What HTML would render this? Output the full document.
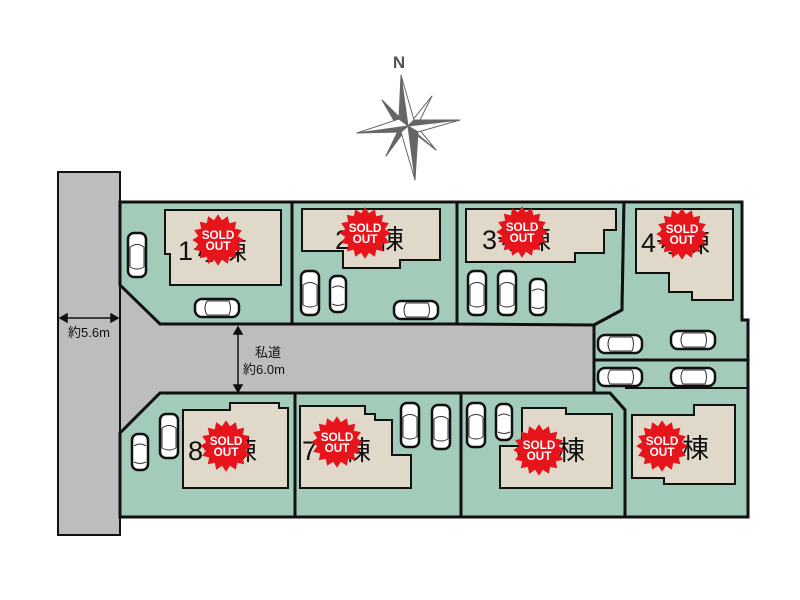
<!DOCTYPE html>
<html><head><meta charset="utf-8"><style>
html,body{margin:0;padding:0;background:#fff;}
svg{display:block;}
text{font-family:"Liberation Sans","Noto Sans CJK JP",sans-serif;}
</style></head><body>
<svg width="800" height="600" viewBox="0 0 800 600" xmlns="http://www.w3.org/2000/svg">
<defs>
<polygon id="star" fill="#e8141c" points="23,0 17.65,3.51 21.25,8.8 14.97,10 16.26,16.26 10,14.97 8.8,21.25 3.51,17.65 0,23 -3.51,17.65 -8.8,21.25 -10,14.97 -16.26,16.26 -14.97,10 -21.25,8.8 -17.65,3.51 -23,0 -17.65,-3.51 -21.25,-8.8 -14.97,-10 -16.26,-16.26 -10,-14.97 -8.8,-21.25 -3.51,-17.65 0,-23 3.51,-17.65 8.8,-21.25 10,-14.97 16.26,-16.26 14.97,-10 21.25,-8.8 17.65,-3.51"/>
<g id="carv">
<rect x="-9" y="-22" width="18" height="44" rx="6" fill="#fff" stroke="#111" stroke-width="2.5"/>
<path d="M-7,-8 Q0,-13 7,-8 M-7,12 Q0,16 7,12 M-7,-8 V12 M7,-8 V12" fill="none" stroke="#333" stroke-width="1"/>
</g>
<g id="carvs">
<rect x="-8" y="-18" width="16" height="36" rx="6" fill="#fff" stroke="#111" stroke-width="2.5"/>
<path d="M-6,-6 Q0,-10 6,-6 M-6,10 Q0,13 6,10" fill="none" stroke="#333" stroke-width="1"/>
</g>
<g id="carh">
<rect x="-22" y="-9" width="44" height="18" rx="7" fill="#fff" stroke="#111" stroke-width="2.5"/>
<path d="M-10,-7 Q-14,0 -10,7 M12,-7 Q15,0 12,7 M-10,-7 H12 M-10,7 H12" fill="none" stroke="#333" stroke-width="1"/>
</g>
</defs>

<!-- compass -->
<text x="399" y="68" font-size="17" font-weight="bold" fill="#555" text-anchor="middle">N</text>
<g stroke="#666" stroke-width="1" stroke-linejoin="round">
<polygon points="408,126 382,100 400,119" fill="#fff"/>
<polygon points="408,126 382,100 396,124" fill="#666"/>
<polygon points="408,126 432,96 414,120" fill="#666"/>
<polygon points="408,126 432,96 419,122" fill="#fff"/>
<polygon points="408,126 386,156 403,133" fill="#fff"/>
<polygon points="408,126 386,156 398,131" fill="#666"/>
<polygon points="408,126 436,150 414,133" fill="#666"/>
<polygon points="408,126 436,150 418,128" fill="#fff"/>
<polygon points="408,126 401,75 399,119" fill="#666"/>
<polygon points="408,126 401,75 414,120" fill="#fff"/>
<polygon points="408,126 460,120 414,120" fill="#666"/>
<polygon points="408,126 460,120 418,132" fill="#fff"/>
<polygon points="408,126 415,180 418,132" fill="#666"/>
<polygon points="408,126 415,180 401,132" fill="#fff"/>
<polygon points="408,126 357,133 401,132" fill="#666"/>
<polygon points="408,126 357,133 399,119" fill="#fff"/>
</g>

<!-- private road -->
<rect x="119" y="280" width="480" height="160" fill="#bdbdbd"/>
<!-- left road -->
<rect x="58" y="172" width="62" height="363" fill="#bdbdbd" stroke="#111" stroke-width="2"/>

<g stroke="#111" stroke-width="3" stroke-linejoin="miter">
<polygon points="120,202 292,202 292,324 160,324 120,285" fill="#a3cbb9"/>
<polygon points="292,202 457,202 457,324 292,324" fill="#a3cbb9"/>
<polygon points="457,202 624,202 622,310 594,325 457,324" fill="#a3cbb9"/>
<polygon points="624,202 742,202 742,320 748,320 748,360 594,360 594,325 622,310" fill="#a3cbb9"/>
<polygon points="594,360 748,360 748,517 625,517 625,410 610,393 594,393" fill="#a3cbb9"/>
<polygon points="160,393 295,393 295,517 120,517 120,433" fill="#a3cbb9"/>
<polygon points="295,393 461,393 461,517 295,517" fill="#a3cbb9"/>
<polygon points="461,393 610,393 625,410 625,517 461,517" fill="#a3cbb9"/>
<line x1="625" y1="388" x2="748" y2="388" stroke-width="2"/>
</g>

<!-- houses -->
<g fill="#e0d8c8" stroke="#111" stroke-width="2">
<polygon points="165,210 281,210 281,285 170,285 170,254 165,254"/>
<polygon points="302,209 440,209 440,260 400,260 400,268 343,268 343,251 302,251"/>
<polygon points="466,209 616,209 616,230 604,230 604,253 575,253 575,262 466,262"/>
<polygon points="636,209 733,209 733,300 692,300 692,292 669,292 669,273 636,273"/>
<polygon points="183,410 230,410 230,403 279,403 279,408 288,408 288,488 183,488"/>
<polygon points="300,406 365,406 365,414 375,414 375,420 392,420 392,455 411,455 411,488 300,488"/>
<polygon points="522,408 566,408 566,414 612,414 612,488 500,488 500,446 522,446"/>
<polygon points="632,415 694,415 694,405 735,405 735,484 664,484 664,478 632,478"/>
</g>

<!-- labels -->
<g font-size="27" fill="#111">
<text x="178" y="260">1号棟</text>
<text x="335" y="249">2号棟</text>
<text x="482" y="249">3号棟</text>
<text x="641" y="252">4号棟</text>
<text x="188" y="460">8号棟</text>
<text x="302" y="460">7号棟</text>
<text x="516" y="460">6号棟</text>
<text x="640" y="458">5号棟</text>
</g>

<!-- sold out -->
<g font-size="10.5" font-weight="bold" fill="#fff" text-anchor="middle">
<g transform="translate(218,240) scale(1.12)"><use href="#star"/><text y="-1">SOLD</text><text y="9">OUT</text></g>
<g transform="translate(365,233) scale(1.12)"><use href="#star"/><text y="-1">SOLD</text><text y="9">OUT</text></g>
<g transform="translate(522,232) scale(1.12)"><use href="#star"/><text y="-1">SOLD</text><text y="9">OUT</text></g>
<g transform="translate(682,234) scale(1.12)"><use href="#star"/><text y="-1">SOLD</text><text y="9">OUT</text></g>
<g transform="translate(226,446) scale(1.12)"><use href="#star"/><text y="-1">SOLD</text><text y="9">OUT</text></g>
<g transform="translate(337,442) scale(1.12)"><use href="#star"/><text y="-1">SOLD</text><text y="9">OUT</text></g>
<g transform="translate(539,450) scale(1.12)"><use href="#star"/><text y="-1">SOLD</text><text y="9">OUT</text></g>
<g transform="translate(662,446) scale(1.12)"><use href="#star"/><text y="-1">SOLD</text><text y="9">OUT</text></g>
</g>

<!-- cars -->
<use href="#carv" x="137" y="255"/>
<use href="#carh" x="217" y="308"/>
<use href="#carv" x="310" y="293"/>
<use href="#carvs" x="338" y="294"/>
<use href="#carh" x="416" y="310"/>
<use href="#carv" x="477" y="293"/>
<use href="#carv" x="507" y="293"/>
<use href="#carvs" x="538" y="297"/>
<use href="#carh" x="620" y="344"/>
<use href="#carh" x="693" y="340"/>
<use href="#carh" x="620" y="377"/>
<use href="#carh" x="693" y="377"/>
<use href="#carvs" x="140" y="452"/>
<use href="#carv" x="169" y="436"/>
<use href="#carv" x="410" y="425"/>
<use href="#carv" x="441" y="427"/>
<use href="#carv" x="476" y="425"/>
<use href="#carvs" x="504" y="422"/>

<!-- dimensions -->
<g stroke="#111" stroke-width="1.5" fill="#111">
<line x1="60" y1="318" x2="118" y2="318"/>
<polygon points="60,318 67,314 67,322"/>
<polygon points="118,318 111,314 111,322"/>
<line x1="238" y1="327" x2="238" y2="392"/>
<polygon points="238,327 234,334 242,334"/>
<polygon points="238,392 234,385 242,385"/>
</g>
<text x="89" y="337" font-size="13" fill="#111" text-anchor="middle">約5.6m</text>
<text x="255" y="357" font-size="13" fill="#111">私道</text>
<text x="243" y="374" font-size="13" fill="#111">約6.0m</text>
</svg>
</body></html>
